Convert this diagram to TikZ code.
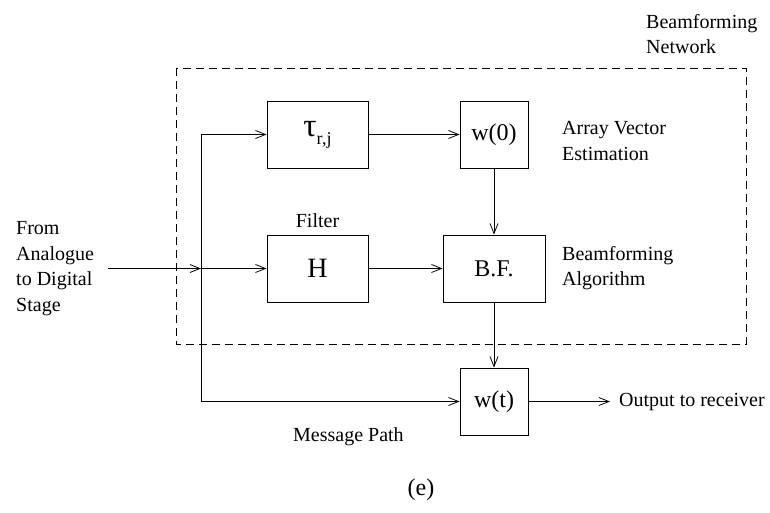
\documentclass[tikz,border=0pt]{standalone}
\usepackage{fontspec}
\setmainfont{Liberation Serif}
\usetikzlibrary{arrows.meta}
\begin{document}
\begin{tikzpicture}[x=1pt,y=-1pt,
  box/.style={draw, line width=0.9pt, inner sep=0pt, minimum height=67pt,
              font=\fontsize{24}{24}\selectfont},
  wire/.style={line width=0.8pt},
  flow/.style={wire, -{Straight Barb[length=10pt,width=8pt,line width=0.8pt]}},
  lbl/.style={font=\fontsize{20}{25.7}\selectfont, align=left, inner sep=0pt},
  netframe/.style={line width=0.8pt, dash pattern=on 8pt off 5pt}]
\useasboundingbox (0,0) rectangle (770,512);

% beamforming network boundary
\draw[netframe] (176,68) rectangle (746,344);

% processing blocks
\node[box, minimum width=101pt] (tau) at (317.5,134.5)
  {{\fontsize{33}{33}\selectfont τ}\raisebox{-8pt}{\fontsize{18}{18}\selectfont r,j}};
\node[box, minimum width=68pt] (w0) at (494,134.5) {w(0)};
\node[box, minimum width=101pt, font=\fontsize{28}{28}\selectfont] (H) at (317.5,268.5) {H};
\node[box, minimum width=102pt] (bf) at (494,268.5) {B.F.};
\node[box, minimum width=68pt] (wt) at (494,401.5) {w(t)};

% signal bus
\coordinate (in) at (108,268.5);
\coordinate (jn) at (201,268.5);
\coordinate (top) at (201,134.5);
\coordinate (bot) at (201,401.5);
\coordinate (out) at (610,401.5);

\draw[flow] (in) -- (jn);
\draw[wire] (top) -- (bot);
\draw[flow] (top) -- (tau);
\draw[flow] (jn) -- (H);
\draw[flow] (tau) -- (w0);
\draw[flow] (H) -- (bf);
\draw[flow] (w0) -- (bf);
\draw[flow] (bf) -- (wt);
\draw[flow] (bot) -- (wt);
\draw[flow] (wt) -- (out);

% labels
\node[lbl, anchor=west] (src) at (16,268.5) {From\\Analogue\\to Digital\\Stage};
\node[lbl] (flt) at (317.5,221) {Filter};
\node[lbl, anchor=west] (ave) at (562,141) {Array Vector\\Estimation};
\node[lbl, anchor=west] (bfa) at (562,268) {Beamforming\\Algorithm};
\node[lbl, anchor=west] (bfn) at (646,34) {Beamforming\\Network};
\node[lbl, anchor=west] (rx) at (619,401.5) {Output to receiver};
\node[lbl, anchor=west] (mp) at (293,437) {Message Path};
\node[inner sep=0pt, font=\fontsize{24}{24}\selectfont] (cap) at (421,490) {(e)};
\end{tikzpicture}
\end{document}
